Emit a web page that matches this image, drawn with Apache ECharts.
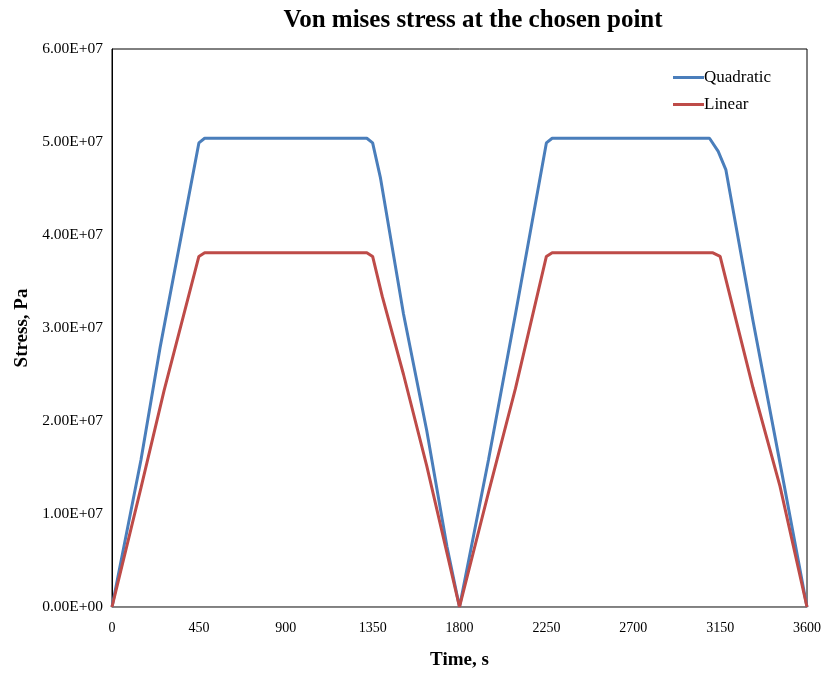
<!DOCTYPE html>
<html><head><meta charset="utf-8">
<script src="https://cdn.jsdelivr.net/npm/echarts@6/dist/echarts.min.js"></script>
<style>html,body{margin:0;padding:0;background:#fff}#c{width:838px;height:676px}</style>
</head><body><div id="c"></div>
<script>
const quadTime = [0, 150, 250, 450, 480, 1320, 1350, 1390, 1510, 1630, 1735, 1800, 1950, 2090, 2250, 2280, 3095, 3140, 3180, 3320, 3460, 3600];
const quadValues = [0, 1.58e7, 2.8e7, 4.99e7, 5.04e7, 5.04e7, 4.99e7, 4.62e7, 3.15e7, 1.9e7, 0.65e7, 0, 1.58e7, 3.15e7, 4.99e7, 5.04e7, 5.04e7, 4.9e7, 4.7e7, 3.08e7, 1.55e7, 0];
const linTime = [0, 150, 270, 450, 480, 1320, 1350, 1400, 1510, 1630, 1800, 1950, 2090, 2250, 2280, 3110, 3150, 3320, 3460, 3600];
const linValues = [0, 1.28e7, 2.33e7, 3.77e7, 3.81e7, 3.81e7, 3.77e7, 3.34e7, 2.5e7, 1.52e7, 0, 1.23e7, 2.35e7, 3.77e7, 3.81e7, 3.81e7, 3.77e7, 2.36e7, 1.3e7, 0];
const seriesNames = ['Quadratic', 'Linear'];
const xTicks = [0, 450, 900, 1350, 1800, 2250, 2700, 3150, 3600];

const serif = '"Liberation Serif", "DejaVu Serif", serif';
function fmtE(v) {
  if (v === 0) return '0.00E+00';
  const e = Math.floor(Math.log10(Math.abs(v)));
  const m = v / Math.pow(10, e);
  return m.toFixed(2) + 'E' + (e >= 0 ? '+' : '-') + String(Math.abs(e)).padStart(2, '0');
}
const chart = echarts.init(document.getElementById('c'), null, {renderer: 'canvas'});
chart.setOption({
  animation: false,
  backgroundColor: '#fff',
  title: {
    text: 'Von mises stress at the chosen point',
    left: 468, top: 3, textAlign: 'center',
    textStyle: {fontFamily: serif, fontSize: 25, fontWeight: 'bold', color: '#000'}
  },
  legend: {
    orient: 'vertical', left: 668, top: 64,
    itemWidth: 31, itemHeight: 3, itemGap: 10, icon: 'rect',
    textStyle: {fontFamily: serif, fontSize: 17, color: '#000', padding: [0,0,0,-5]},
    data: seriesNames
  },
  grid: {left: 112, right: 31, top: 49, bottom: 69, show: true, borderColor: '#000', borderWidth: 1},
  xAxis: {
    type: 'value', min: 0, max: 3600, interval: 450,
    name: 'Time, s', nameLocation: 'middle', nameGap: 44,
    nameTextStyle: {fontFamily: serif, fontSize: 19, fontWeight: 'bold', color: '#000'},
    axisLine: {show: true, lineStyle: {color: '#868686', width: 1}},
    axisTick: {show: false},
    splitLine: {show: false},
    axisLabel: {fontFamily: serif, fontSize: 14, color: '#000', margin: 14,
      formatter: v => xTicks.includes(v) ? String(v) : ''}
  },
  yAxis: {
    type: 'value', min: 0, max: 6e7, interval: 1e7,
    name: 'Stress, Pa', nameLocation: 'middle', nameGap: 72, nameRotate: 90,
    nameTextStyle: {fontFamily: serif, fontSize: 19, fontWeight: 'bold', color: '#000'},
    axisLine: {show: true, lineStyle: {color: '#000', width: 1}},
    axisTick: {show: false},
    splitLine: {show: false},
    axisLabel: {fontFamily: serif, fontSize: 15.5, color: '#000', margin: 9, formatter: fmtE}
  },
  series: [
    {name: seriesNames[0], type: 'line', symbol: 'none', color: '#4A7EBB',
     lineStyle: {width: 3, color: '#4A7EBB'},
     data: quadTime.map((t, i) => [t, quadValues[i]])},
    {name: seriesNames[1], type: 'line', symbol: 'none', color: '#BE4B48',
     lineStyle: {width: 3, color: '#BE4B48'},
     data: linTime.map((t, i) => [t, linValues[i]])}
  ]
});
</script></body></html>
